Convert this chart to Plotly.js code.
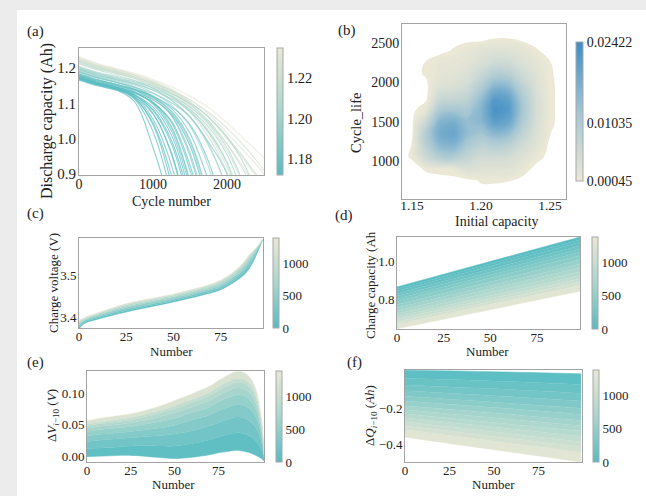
<!DOCTYPE html>
<html>
<head>
<meta charset="utf-8">
<script src="https://cdn.plot.ly/plotly-3.0.1.min.js"></script>
<style>
  html, body { margin: 0; padding: 0; background: #fff; }
  #fig { width: 646px; height: 496px; }
</style>
</head>
<body>
<div id="fig"></div>
<script>
// ---------- (a) discharge capacity vs cycle, one curve per cell ----------
const fadeCycles = [0, 250, 500, 750, 1000, 1250, 1500, 1750, 2000, 2250, 2500, 2750];
const cellInitialCap = [1.233, 1.220, 1.230, 1.226, 1.228, 1.215, 1.222, 1.225, 1.218, 1.212, 1.219, 1.224,
  1.205, 1.203, 1.196, 1.200, 1.198, 1.195, 1.192, 1.190, 1.201,
  1.188, 1.178, 1.182, 1.172, 1.185, 1.174, 1.180, 1.170, 1.178, 1.166, 1.175, 1.172, 1.168, 1.176,
  1.171, 1.177, 1.169, 1.183, 1.173, 1.181];
const cellCapacity = [
  [1.233, 1.213, 1.199, 1.185, 1.168, 1.147, 1.120, 1.088, 1.045, 0.995, 0.945, 0.880],
  [1.220, 1.202, 1.189, 1.175, 1.158, 1.137, 1.110, 1.075, 1.030, 0.975, 0.910, 0.830],
  [1.230, 1.211, 1.197, 1.182, 1.164, 1.141, 1.110, 1.070, 1.015, 0.960, 0.900, 0.800],
  [1.226, 1.207, 1.194, 1.179, 1.161, 1.137, 1.104, 1.060, 1.000, 0.935, 0.860],
  [1.228, 1.209, 1.195, 1.180, 1.161, 1.135, 1.099, 1.050, 0.985, 0.910, 0.820],
  [1.215, 1.198, 1.185, 1.171, 1.153, 1.130, 1.097, 1.050, 0.985, 0.900, 0.800],
  [1.222, 1.204, 1.190, 1.175, 1.156, 1.130, 1.092, 1.040, 0.965, 0.860],
  [1.225, 1.206, 1.192, 1.176, 1.155, 1.127, 1.086, 1.025, 0.935, 0.800],
  [1.218, 1.200, 1.186, 1.170, 1.149, 1.119, 1.075, 1.005, 0.905, 0.760],
  [1.212, 1.195, 1.181, 1.165, 1.143, 1.110, 1.060, 0.980, 0.860],
  [1.219, 1.201, 1.188, 1.174, 1.157, 1.135, 1.104, 1.062, 1.005, 0.940, 0.868],
  [1.224, 1.206, 1.192, 1.175, 1.153, 1.123, 1.080, 1.015, 0.920, 0.770],
  [1.205, 1.188, 1.177, 1.164, 1.149, 1.128, 1.100, 1.062, 1.005, 0.920, 0.780],
  [1.203, 1.186, 1.174, 1.161, 1.145, 1.122, 1.090, 1.045, 0.975, 0.860],
  [1.196, 1.180, 1.168, 1.155, 1.138, 1.113, 1.077, 1.020, 0.930, 0.770],
  [1.200, 1.183, 1.170, 1.156, 1.137, 1.108, 1.062, 0.985, 0.860],
  [1.198, 1.180, 1.167, 1.152, 1.130, 1.095, 1.035, 0.920, 0.720],
  [1.195, 1.177, 1.164, 1.147, 1.120, 1.075, 0.990, 0.820],
  [1.192, 1.174, 1.160, 1.140, 1.105, 1.035, 0.880],
  [1.190, 1.173, 1.160, 1.144, 1.117, 1.066, 0.960, 0.760],
  [1.201, 1.184, 1.172, 1.159, 1.142, 1.118, 1.083, 1.033, 0.955, 0.820],
  [1.188, 1.172, 1.160, 1.146, 1.128, 1.102, 1.062, 0.990, 0.900, 0.700],
  [1.178, 1.163, 1.152, 1.139, 1.120, 1.090, 1.040, 0.935, 0.750],
  [1.182, 1.166, 1.154, 1.140, 1.120, 1.085, 1.015, 0.880, 0.700],
  [1.172, 1.157, 1.146, 1.132, 1.110, 1.070, 0.980, 0.800],
  [1.185, 1.168, 1.155, 1.138, 1.112, 1.065, 0.950, 0.750],
  [1.174, 1.158, 1.146, 1.130, 1.102, 1.045, 0.910, 0.700],
  [1.180, 1.163, 1.150, 1.132, 1.100, 1.030, 0.875],
  [1.170, 1.154, 1.142, 1.124, 1.090, 1.010, 0.840],
  [1.178, 1.160, 1.147, 1.125, 1.080, 0.985, 0.800],
  [1.166, 1.150, 1.138, 1.118, 1.070, 0.960, 0.750],
  [1.175, 1.158, 1.145, 1.120, 1.055, 0.925, 0.700],
  [1.172, 1.156, 1.142, 1.115, 1.040, 0.870, 0.600],
  [1.168, 1.152, 1.138, 1.105, 0.975, 0.800],
  [1.176, 1.158, 1.144, 1.116, 1.045, 0.895, 0.650],
  [1.171, 1.155, 1.141, 1.112, 1.020, 0.840],
  [1.177, 1.160, 1.147, 1.124, 1.072, 0.955, 0.740],
  [1.169, 1.153, 1.141, 1.122, 1.083, 0.995, 0.820],
  [1.183, 1.166, 1.153, 1.134, 1.098, 1.022, 0.860],
  [1.173, 1.157, 1.145, 1.129, 1.102, 1.050, 0.925, 0.720],
  [1.181, 1.165, 1.153, 1.138, 1.116, 1.078, 0.997, 0.830]
];

// ---------- (b) density of cycle life vs initial capacity ----------
const densityCap = [1.14, 1.15, 1.16, 1.17, 1.18, 1.19, 1.20, 1.21, 1.22, 1.23, 1.24, 1.25, 1.26];
const densityLife = [600, 750, 900, 1050, 1200, 1350, 1500, 1650, 1800, 1950, 2100, 2250, 2400, 2550, 2700];
const densityZ = [
  [0, 0, 0, 0, 0, 0, 0, 0, 0, 0, 0, 0, 0],
  [0, 0, 0, 0, 0, 0, 0.0006, 0.0006, 0.0005, 0, 0, 0, 0],
  [0, 0, 0.0006, 0.0009, 0.0012, 0.0035, 0.0030, 0.0029, 0.0027, 0.0012, 0, 0, 0],
  [0, 0.0006, 0.0059, 0.0099, 0.0105, 0.0074, 0.0052, 0.0052, 0.0048, 0.0032, 0.0010, 0, 0],
  [0, 0.0005, 0.0086, 0.0151, 0.0162, 0.0114, 0.0086, 0.0095, 0.0086, 0.0052, 0.0026, 0, 0],
  [0, 0, 0.0099, 0.0177, 0.0191, 0.0141, 0.0125, 0.0152, 0.0139, 0.0080, 0.0034, 0.0005, 0],
  [0, 0, 0.0060, 0.0157, 0.0172, 0.0139, 0.0152, 0.0205, 0.0190, 0.0106, 0.0041, 0.0007, 0],
  [0, 0, 0.0015, 0.0107, 0.0119, 0.0112, 0.0157, 0.0228, 0.0213, 0.0118, 0.0045, 0.0007, 0],
  [0, 0, 0, 0.0058, 0.0067, 0.0078, 0.0136, 0.0208, 0.0195, 0.0109, 0.0042, 0.0007, 0],
  [0, 0, 0, 0.0030, 0.0036, 0.0051, 0.0100, 0.0154, 0.0146, 0.0083, 0.0035, 0.0007, 0],
  [0, 0, 0.0006, 0.0019, 0.0022, 0.0033, 0.0063, 0.0097, 0.0092, 0.0055, 0.0027, 0.0006, 0],
  [0, 0, 0.0005, 0.0014, 0.0016, 0.0022, 0.0038, 0.0053, 0.0051, 0.0034, 0.0020, 0.0005, 0],
  [0, 0, 0, 0, 0.0006, 0.0015, 0.0024, 0.0030, 0.0029, 0.0022, 0.0006, 0, 0],
  [0, 0, 0, 0, 0, 0, 0, 0.0005, 0.0005, 0, 0, 0, 0],
  [0, 0, 0, 0, 0, 0, 0, 0, 0, 0, 0, 0, 0]
];
const densityTicks = [0.00045, 0.01035, 0.02422];
const densityTickText = ['0.00045', '0.01035', '0.02422'];

// ---------- (c) charge voltage curves, by cycle ----------
const chargeNumber = [0, 3, 10, 25, 50, 65, 75, 85, 90, 95, 97];
const chargeCycles = [0, 200, 400, 600, 800, 1000, 1390];
const chargeVoltage = [
  [3.372, 3.385, 3.395, 3.412, 3.436, 3.452, 3.465, 3.492, 3.515, 3.560, 3.583],
  [3.376, 3.388, 3.398, 3.415, 3.439, 3.455, 3.468, 3.497, 3.521, 3.563, 3.583],
  [3.380, 3.391, 3.401, 3.419, 3.442, 3.459, 3.472, 3.503, 3.528, 3.566, 3.584],
  [3.383, 3.393, 3.404, 3.423, 3.446, 3.462, 3.477, 3.508, 3.534, 3.568, 3.584],
  [3.386, 3.395, 3.406, 3.426, 3.449, 3.466, 3.481, 3.513, 3.540, 3.570, 3.585],
  [3.389, 3.397, 3.408, 3.429, 3.452, 3.469, 3.485, 3.517, 3.544, 3.571, 3.585],
  [3.392, 3.399, 3.410, 3.432, 3.455, 3.472, 3.488, 3.520, 3.548, 3.572, 3.586]
];

// ---------- (d) charge capacity lines, by cycle ----------
const capNumber = [0, 98];
const capCycles = [0, 50, 100, 175, 250, 325, 400, 500, 600, 700, 800, 900, 1000, 1100, 1200, 1390];
const chargeCapacity = [
  [0.868, 1.130], [0.857, 1.116], [0.846, 1.102], [0.833, 1.084], [0.820, 1.067],
  [0.806, 1.050], [0.793, 1.033], [0.776, 1.010], [0.758, 0.988], [0.743, 0.968],
  [0.727, 0.948], [0.712, 0.928], [0.699, 0.911], [0.685, 0.894], [0.672, 0.876],
  [0.648, 0.845]
];

// ---------- (e) voltage difference to cycle 10 ----------
const dvNumber = [0, 10, 25, 40, 50, 60, 70, 75, 80, 85, 90, 94, 97, 99, 100, 101];
const dvCycles = [10, 150, 300, 450, 600, 750, 900, 1050, 1390];
const deltaV = [
  [-0.001, 0.000, 0.001, -0.002, -0.004, -0.002, 0.002, 0.005, 0.007, 0.009, 0.007, 0.004, 0.000, -0.003, -0.005, -0.008],
  [0.012, 0.013, 0.016, 0.016, 0.016, 0.020, 0.026, 0.030, 0.034, 0.037, 0.035, 0.030, 0.022, 0.013, 0.006, -0.005],
  [0.023, 0.026, 0.029, 0.032, 0.035, 0.040, 0.048, 0.053, 0.058, 0.062, 0.060, 0.053, 0.042, 0.028, 0.017, -0.003],
  [0.032, 0.035, 0.039, 0.044, 0.049, 0.057, 0.065, 0.072, 0.077, 0.082, 0.080, 0.072, 0.058, 0.039, 0.025, -0.001],
  [0.039, 0.043, 0.047, 0.054, 0.060, 0.069, 0.078, 0.086, 0.092, 0.097, 0.095, 0.086, 0.070, 0.048, 0.031, 0.000],
  [0.044, 0.048, 0.053, 0.061, 0.069, 0.078, 0.088, 0.096, 0.103, 0.108, 0.106, 0.097, 0.079, 0.055, 0.036, 0.001],
  [0.048, 0.052, 0.057, 0.067, 0.075, 0.085, 0.096, 0.104, 0.111, 0.117, 0.115, 0.105, 0.086, 0.060, 0.040, 0.002],
  [0.051, 0.055, 0.061, 0.071, 0.080, 0.090, 0.101, 0.110, 0.117, 0.123, 0.121, 0.111, 0.091, 0.064, 0.043, 0.003],
  [0.056, 0.061, 0.067, 0.078, 0.088, 0.099, 0.111, 0.120, 0.128, 0.134, 0.132, 0.121, 0.100, 0.070, 0.047, 0.004]
];

// ---------- (f) capacity difference to cycle 10 ----------
const dqNumber = [0, 50, 99];
const dqCycles = [10, 100, 200, 300, 400, 500, 600, 700, 800, 900, 1000, 1100, 1200, 1390];
const deltaQ = [
  [0.008, 0.000, -0.012], [-0.036, -0.051, -0.070], [-0.073, -0.094, -0.118],
  [-0.105, -0.132, -0.161], [-0.135, -0.167, -0.200], [-0.160, -0.196, -0.234],
  [-0.186, -0.226, -0.267], [-0.208, -0.252, -0.296], [-0.230, -0.278, -0.325],
  [-0.252, -0.303, -0.354], [-0.274, -0.329, -0.383], [-0.296, -0.354, -0.412],
  [-0.318, -0.380, -0.441], [-0.358, -0.427, -0.494]
];

const cycleTicks = [0, 500, 1000];

// ---------- styling helpers ----------
const W = 646, H = 496;
const serif = '"Liberation Serif", "Times New Roman", serif';
const font = (size) => ({ family: serif, size: size, color: '#222' });
const tealScale = [[0, '#57bcc2'], [0.5, '#a9d6cd'], [1, '#eae7d4']];
const densityScale = [[0, '#ebe8d6'], [0.48, '#a7c7d3'], [1, '#3c8dc5']];

function hexRgb(h) {
  return [parseInt(h.slice(1, 3), 16), parseInt(h.slice(3, 5), 16), parseInt(h.slice(5, 7), 16)];
}
function colorAt(scale, t) {
  t = Math.max(0, Math.min(1, t));
  for (let i = 1; i < scale.length; i++) {
    if (t <= scale[i][0]) {
      const a = scale[i - 1], b = scale[i];
      const f = (t - a[0]) / (b[0] - a[0]);
      const ca = hexRgb(a[1]), cb = hexRgb(b[1]);
      const c = ca.map((v, k) => Math.round(v + (cb[k] - v) * f));
      return 'rgb(' + c.join(',') + ')';
    }
  }
  return scale[scale.length - 1][1];
}
const xd = (l, r) => [l / W, r / W];
const yd = (t, b) => [1 - b / H, 1 - t / H];

function axis(domain, range, tickvals, ticktext, anchor, standoff, size) {
  const a = {
    domain, range, anchor, tickvals, showline: true, mirror: true,
    linecolor: '#a3a3a3', linewidth: 1, ticks: '', showgrid: false,
    zeroline: false, tickfont: font(size), fixedrange: true,
    ticklabelstandoff: standoff
  };
  if (ticktext) a.ticktext = ticktext;
  return a;
}

function colorbarTrace(xa, ya, scale, cmin, cmax, tickvals, ticktext, left, top, bottom, thick, size) {
  const cb = {
    x: left / W, xanchor: 'left', y: 1 - top / H, yanchor: 'top',
    len: (bottom - top) / H, lenmode: 'fraction', thickness: thick, thicknessmode: 'pixels',
    xpad: 0, ypad: 0, outlinewidth: 1, outlinecolor: '#a8a8a8', borderwidth: 0,
    ticks: '', tickvals, tickfont: font(size)
  };
  if (ticktext) cb.ticktext = ticktext;
  return {
    type: 'scatter', x: [null], y: [null], xaxis: xa, yaxis: ya, mode: 'markers',
    hoverinfo: 'skip', showlegend: false,
    marker: { color: [cmin], cmin, cmax, colorscale: scale, showscale: true, size: 1, colorbar: cb }
  };
}

// stacked bands of curves, filled between neighbours, coloured by cycle
function bandTraces(xa, ya, xs, curves, cycles, cmax, shape) {
  return curves.map((ys, i) => {
    const t = {
      type: 'scatter', x: xs, y: ys, xaxis: xa, yaxis: ya, mode: 'lines',
      hoverinfo: 'skip', showlegend: false,
      line: { width: 0.5, shape: shape, color: colorAt(tealScale, cycles[i] / cmax) }
    };
    if (i > 0) {
      t.fill = 'tonexty';
      t.fillcolor = colorAt(tealScale, (cycles[i] + cycles[i - 1]) / 2 / cmax);
    }
    return t;
  });
}

const traces = [];

// (a)
const capMin = 1.172, capMax = 1.235;
cellCapacity.forEach((ys, i) => {
  traces.push({
    type: 'scatter', x: fadeCycles.slice(0, ys.length), y: ys, xaxis: 'x', yaxis: 'y',
    mode: 'lines', hoverinfo: 'skip', showlegend: false, opacity: 0.7,
    line: { width: 1.1, shape: 'spline', smoothing: 1,
      color: colorAt(tealScale, (cellInitialCap[i] - capMin) / (capMax - capMin)) }
  });
});

// (b): transparent below the lowest level, shaded levels above it
const nLevels = 48;
const offset = 1 / nLevels;
const contourScale = [[0, 'rgba(255,255,255,0)'], [offset * 0.98, 'rgba(255,255,255,0)']]
  .concat(densityScale.map(s => [offset + s[0] * (1 - offset), s[1]]));
traces.push({
  type: 'contour', x: densityCap, y: densityLife, z: densityZ, xaxis: 'x2', yaxis: 'y2',
  autocontour: false,
  contours: { start: 0.00045, end: 0.0243, size: 0.0005, coloring: 'fill', showlines: false },
  line: { width: 0, smoothing: 1.3 }, colorscale: contourScale, showscale: false,
  hoverinfo: 'skip'
});

// (c)-(f)
const cycMax = 1390;
traces.push(...bandTraces('x3', 'y3', chargeNumber, chargeVoltage, chargeCycles, cycMax, 'spline'));
traces.push(...bandTraces('x4', 'y4', capNumber, chargeCapacity, capCycles, cycMax, 'linear'));
traces.push(...bandTraces('x5', 'y5', dvNumber, deltaV, dvCycles, cycMax, 'spline'));
traces.push(...bandTraces('x6', 'y6', dqNumber, deltaQ, dqCycles, cycMax, 'spline'));

// colour bars
traces.push(colorbarTrace('x', 'y', tealScale, capMin, capMax, [1.18, 1.20, 1.22], ['1.18', '1.20', '1.22'], 277, 48, 175, 6, 14.5));
traces.push(colorbarTrace('x2', 'y2', densityScale, 0.00045, 0.02422, densityTicks, densityTickText, 576, 42, 181, 7, 14));
traces.push(colorbarTrace('x3', 'y3', tealScale, 0, cycMax, cycleTicks, null, 273, 238, 328, 6, 13));
traces.push(colorbarTrace('x4', 'y4', tealScale, 0, cycMax, cycleTicks, null, 592, 237, 329, 6, 13));
traces.push(colorbarTrace('x5', 'y5', tealScale, 0, cycMax, cycleTicks, null, 276, 371, 462, 6, 13));
traces.push(colorbarTrace('x6', 'y6', tealScale, 0, cycMax, cycleTicks, null, 593, 370, 462, 6, 13));

function note(text, px, py, size, angle) {
  return {
    text, x: px / W, y: 1 - py / H, xref: 'paper', yref: 'paper', showarrow: false,
    xanchor: 'center', yanchor: 'middle', textangle: angle || 0, font: font(size)
  };
}

const layout = {
  width: W, height: H, margin: { l: 0, r: 0, t: 0, b: 0 },
  paper_bgcolor: '#ffffff', plot_bgcolor: 'rgba(0,0,0,0)',
  showlegend: false, hovermode: false,
  xaxis: axis(xd(79, 264), [0, 2500], [0, 1000, 2000], null, 'y', -4, 14),
  yaxis: axis(yd(48, 175), [0.897, 1.257], [0.9, 1.0, 1.1, 1.2], ['0.9', '1.0', '1.1', '1.2'], 'x', -1, 15),
  xaxis2: axis(xd(402, 566), [1.1428, 1.2616], [1.15, 1.20, 1.25], ['1.15', '1.20', '1.25'], 'y2', -6, 13.5),
  yaxis2: axis(yd(24, 199), [517, 2741], [1000, 1500, 2000, 2500], null, 'x2', -1, 14),
  xaxis3: axis(xd(79, 263), [0, 97.3], [0, 25, 50, 75], null, 'y3', -4, 13),
  yaxis3: axis(yd(238, 328), [3.374, 3.588], [3.4, 3.5], ['3.4', '3.5'], 'x3', -1, 13),
  xaxis4: axis(xd(397, 580), [0, 98], [0, 25, 50, 75], null, 'y4', -4, 13),
  yaxis4: axis(yd(237, 329), [0.647, 1.13], [0.8, 1.0], ['0.8', '1.0'], 'x4', -1, 13),
  xaxis5: axis(xd(87, 264), [0, 101], [0, 25, 50, 75], null, 'y5', -4, 13),
  yaxis5: axis(yd(371, 462), [-0.0095, 0.135], [0, 0.05, 0.1], ['0.00', '0.05', '0.10'], 'x5', -1, 13),
  xaxis6: axis(xd(405, 582), [0, 99.5], [0, 25, 50, 75], null, 'y6', -4, 13),
  yaxis6: axis(yd(370, 462), [-0.494, 0.009], [-0.4, -0.2], ['\u22120.4', '\u22120.2'], 'x6', -1, 13),
  shapes: [
    { type: 'rect', xref: 'paper', yref: 'paper', x0: 0, x1: 17 / W, y0: 0, y1: 1,
      fillcolor: '#ececec', line: { width: 0 }, layer: 'below' },
    { type: 'rect', xref: 'paper', yref: 'paper', x0: 0, x1: 1, y0: 1 - 10 / H, y1: 1,
      fillcolor: '#ececec', line: { width: 0 }, layer: 'below' }
  ],
  annotations: [
    note('(a)', 35, 32, 15), note('(b)', 347, 30, 15), note('(c)', 35, 214, 15),
    note('(d)', 344, 215, 15), note('(e)', 35, 362, 15), note('(f)', 354, 362, 15),
    note('Discharge capacity (Ah)', 47, 121, 16, -90),
    note('Cycle number', 171, 201, 14),
    note('Cycle_life', 356, 123, 14.5, -90),
    note('Initial capacity', 497, 221, 14),
    note('Charge voltage (V)', 53, 283, 13, -90),
    note('Number', 171, 351, 13),
    note('Charge capacity (Ah', 370, 285, 13, -90),
    note('Number', 488, 351, 13),
    note('\u0394<i>V</i><sub><i>i</i>\u221210</sub> (<i>V</i>)', 52, 416, 13, -90),
    note('Number', 173, 484, 13),
    note('\u0394<i>Q</i><sub><i>i</i>\u221210</sub> (<i>Ah</i>)', 370, 415, 13, -90),
    note('Number', 493, 484, 13)
  ]
};

Plotly.newPlot('fig', traces, layout, { staticPlot: true, displayModeBar: false });
</script>
</body>
</html>
